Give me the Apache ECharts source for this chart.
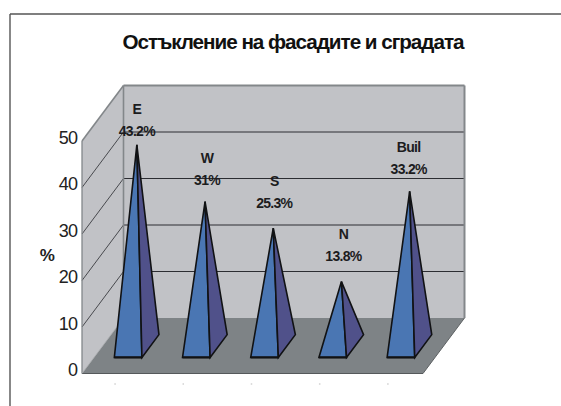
<!DOCTYPE html>
<html><head><meta charset="utf-8">
<style>html,body{margin:0;background:#fff}#c{width:561px;height:406px}#c text{letter-spacing:-0.05em}</style>
<script src="https://cdn.jsdelivr.net/npm/echarts@6/dist/echarts.min.js"></script>
</head><body><div id="c"></div><script>
const categories = ['E','W','S','N','Buil'];
const values = [43.2,31,25.3,13.8,33.2];
const valueLabels = ['43.2%','31%','25.3%','13.8%','33.2%'];
const ticks = [0,10,20,30,40,50];
const titleText = 'Остъкление на фасадите и сградата';
const axisName = '%';
// styling / projection
const DX = 41.5, DY = 55.5, HALF = 13.8, D0 = 0.29, D1 = 0.70;
const labelLift = [14,22,25,26,22];   // px above apex of the % label
const labelShift = [0,2,1,2,-1];
const font = '"Liberation Sans", Arial, sans-serif';

const chart = echarts.init(document.getElementById('c'), null, {renderer:'svg'});
const ln = (a,b,stroke,w)=>({type:'line',shape:{x1:a[0],y1:a[1],x2:b[0],y2:b[1]},style:{stroke,lineWidth:w}});
const poly = (points,fill,stroke,w)=>({type:'polygon',shape:{points},style:{fill,stroke:stroke||null,lineWidth:w||0}});
const sh = (p,d)=>[p[0]+d*DX,p[1]-d*DY];

function renderWalls(params,api){
  const cs=params.coordSys, xL=cs.x, xR=cs.x+cs.width;
  const at=(x,t)=>[x,api.coord([0,t])[1]];
  const fl=at(xL,0), fr=at(xR,0), tl=at(xL,50);
  const bl=sh(fl,1), br=sh(fr,1), btl=sh(tl,1), btr=[br[0],btl[1]];
  const kids=[];
  kids.push(poly([fl,tl,btl,bl],'#c1c2c6'));
  kids.push(poly([bl,btl,btr,br],'#c1c2c6'));
  kids.push(poly([fl,bl,br,fr],'#7e8386'));
  ticks.forEach(t=>{
    if(t===0||t===50) return;
    const f=at(xL,t), b=sh(f,1);
    kids.push(ln(f,b,'#3a3b40',0.9));
    kids.push(ln(b,[br[0],b[1]],'#2c2d32',1));
  });
  const edge='#83878a';
  kids.push(ln(fl,tl,edge,1.3),ln(tl,btl,edge,1.6),ln(btl,btr,edge,2),ln(btl,bl,edge,1.6),ln(btr,br,edge,2));
  kids.push(ln(br,fr,'#5d6163',1),ln(fr,fl,'#55595b',1.2),ln(fl,bl,'#a8abad',0.8));
  return {type:'group',children:kids};
}
function renderPyramid(params,api){
  const i=api.value(0), v=api.value(1);
  const c=api.coord([i,0]), top=api.coord([i,v]);
  const a=[c[0]-HALF+D0*DX,c[1]-D0*DY], b=[c[0]+HALF+D0*DX,c[1]-D0*DY];
  const d=[c[0]+HALF+D1*DX,c[1]-D1*DY];
  const apex=sh(top,0.5);
  const k='#111214';
  return {type:'group',children:[
    poly([a,b,apex],'#4a76b3',k,1.6),
    poly([b,d,apex],'#50518a',k,1.6),
    ln(a,b,k,2),
    {type:'rect',shape:{x:a[0],y:c[1]+10,width:1.5,height:1},style:{fill:'#bbb'}}
  ]};
}
function renderLabels(params,api){
  const i=api.value(0), v=api.value(1);
  const apex=sh(api.coord([i,v]),0.5);
  const x=apex[0]+labelShift[i], y=apex[1]-labelLift[i];
  const st=(t,yy)=>({type:'text',style:{text:t,x,y:yy,align:'center',verticalAlign:'middle',font:'bold 14px '+font,fill:'#1c1c1e'}});
  return {type:'group',children:[st(categories[i],y-22),st(valueLabels[i],y)]};
}
const seriesData = values.map((v,i)=>[i,v]);
chart.setOption({
  animation:false,
  backgroundColor:'#fff',
  title:{text:titleText,left:288,top:26,textAlign:'center',textStyle:{fontFamily:font,fontWeight:'bold',fontSize:20.7,color:'#111'}},
  grid:{left:82,top:141,width:341,height:232.5},
  xAxis:{type:'category',data:categories,axisLabel:{show:false},axisTick:{show:false},axisLine:{show:false},boundaryGap:true},
  yAxis:{type:'value',min:0,max:50,interval:10,splitLine:{show:false},axisLine:{show:false},axisTick:{show:false},
    axisLabel:{fontFamily:font,fontSize:18,color:'#222',margin:5,verticalAlign:'bottom',lineHeight:7},
    name:axisName,nameLocation:'middle',nameGap:28,nameRotate:0,nameMoveOverlap:false,nameTextStyle:{fontFamily:font,fontSize:17,fontWeight:'bold',color:'#222',verticalAlign:'bottom',lineHeight:4}},
  graphic:[
    {type:'line',shape:{x1:10,y1:14,x2:561,y2:14},style:{stroke:'#555',lineWidth:1.4},z:0},
    {type:'line',shape:{x1:10,y1:14,x2:10,y2:406},style:{stroke:'#555',lineWidth:1.4},z:0}
  ],
  series:[
    {type:'custom',coordinateSystem:'cartesian2d',renderItem:renderWalls,data:[[0,0]],clip:false,silent:true,z:1},
    {type:'custom',coordinateSystem:'cartesian2d',renderItem:renderPyramid,data:seriesData,clip:false,silent:true,z:2},
    {type:'custom',coordinateSystem:'cartesian2d',renderItem:renderLabels,data:seriesData,clip:false,silent:true,z:3}
  ]
});
</script></body></html>
